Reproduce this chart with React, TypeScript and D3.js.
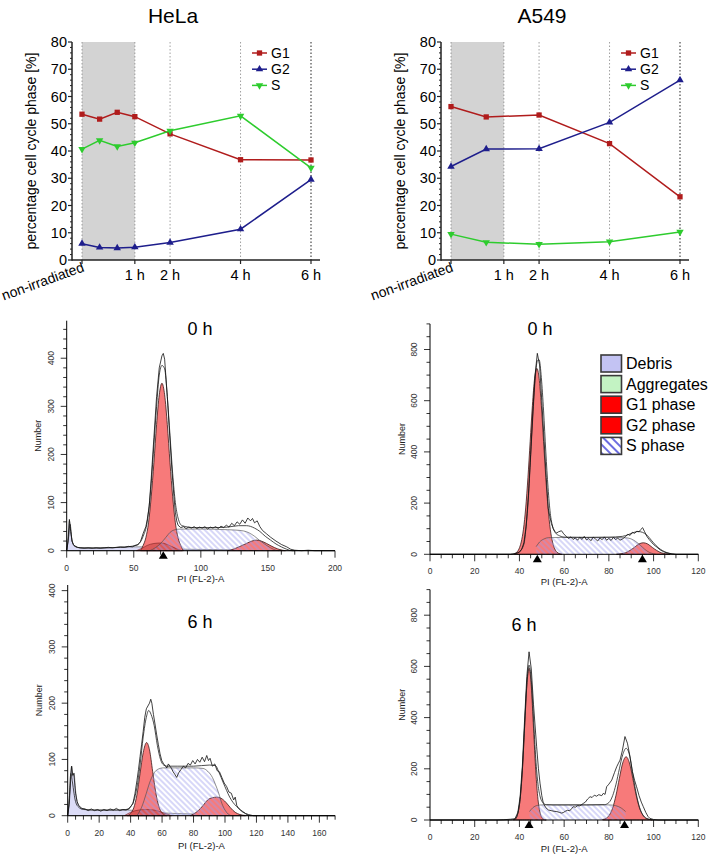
import React from 'react';
import * as d3 from 'd3';

type Pt = [number, number];

const FONT = '"Liberation Sans", Arial, Helvetica, sans-serif';

// cell cycle distribution in percent, time in hours (-0.5 = non-irradiated)
const helaTimes = [-0.5, 0, 0.5, 1, 2, 4, 6];
const helaG1 = [53.5, 51.7, 54.2, 52.6, 46.3, 36.8, 36.7];
const helaG2 = [6.0, 4.6, 4.4, 4.7, 6.4, 11.3, 29.5];
const helaS = [40.7, 43.9, 41.7, 43.0, 47.4, 52.9, 33.8];

const a549Times = [-0.5, 0.5, 2, 4, 6];
const a549G1 = [56.3, 52.5, 53.2, 42.7, 23.2];
const a549G2 = [34.3, 40.7, 40.8, 50.5, 66.0];
const a549S = [9.5, 6.5, 5.8, 6.7, 10.3];

const timeTicks = [1, 2, 4, 6];
const timeTickLabels = ['1 h', '2 h', '4 h', '6 h'];
const guideTimes = [-0.5, 1, 2, 4, 6];
const percentTicks = [0, 10, 20, 30, 40, 50, 60, 70, 80];

// HeLa 0 h histogram (PI channel, cell count)
const hela0Debris: Pt[] = [[0, 0], [1, 25], [2, 62], [3, 40], [4, 20], [6, 10], [10, 6], [20, 5], [30, 6], [40, 7], [50, 8], [56, 8], [62, 6], [70, 4], [90, 3], [120, 2], [150, 1], [170, 0]];
const hela0Hump: Pt[] = [[52, 0], [56, 5], [60, 11], [65, 15], [70, 16], [74, 14], [78, 9], [82, 4], [86, 0]];
const hela0G1: Pt[] = [[55, 0], [57, 11], [59, 27], [61, 58], [63, 112], [65, 183], [67, 262], [69, 324], [71, 348], [73, 324], [75, 262], [77, 183], [79, 112], [81, 58], [83, 27], [85, 11], [87, 0]];
const hela0G2: Pt[] = [[120, 0], [125, 4], [130, 10], [134, 15], [138, 20], [141.5, 22], [145, 20], [149, 15], [153, 9], [157, 4], [161, 1], [163, 0]];
const hela0S: Pt[] = [[62, 0], [66, 6], [70, 15], [74, 28], [77, 38], [80, 43], [85, 45], [95, 45], [105, 45], [115, 44], [125, 43], [132, 41], [136, 37], [140, 30], [144, 21], [148, 13], [152, 6], [156, 1], [158, 0]];
const hela0Fit: Pt[] = [[0, 0], [1.5, 30], [2.5, 55], [4, 20], [6, 9], [10, 6], [20, 6], [30, 6], [40, 7], [48, 9], [53, 13], [57, 30], [60, 60], [63, 140], [65, 220], [67, 300], [69, 365], [71, 385], [73, 378], [75, 320], [77, 240], [79, 160], [81, 100], [83, 68], [86, 52], [95, 48], [110, 48], [120, 49], [128, 52], [134, 52], [140, 47], [144, 40], [148, 30], [152, 22], [156, 14], [160, 8], [164, 3], [168, 0], [200, 0]];
const hela0Raw: Pt[] = [[0, 0], [1, 20], [2, 65], [3, 40], [4, 20], [5, 13], [6, 10], [8, 7], [10, 6], [13, 5], [16, 6], [19, 5], [22, 6], [25, 5], [28, 6], [31, 7], [34, 6], [37, 7], [40, 8], [43, 7], [46, 9], [49, 8], [51, 11], [53, 12], [55, 19], [57, 36], [59, 50], [60, 64], [61.5, 92], [63, 150], [65, 235], [67, 320], [69, 380], [71, 405], [72, 410], [73, 398], [75, 320], [77, 230], [78.5, 165], [80, 110], [81, 80], [82, 62], [83, 53], [85, 48], [87, 50], [89, 46], [91, 49], [93, 47], [95, 50], [97, 46], [99, 49], [101, 47], [103, 50], [105, 45], [107, 49], [109, 47], [111, 50], [113, 46], [115, 51], [117, 48], [119, 53], [121, 49], [123, 57], [125, 52], [127, 60], [129, 55], [131, 64], [133, 57], [135, 68], [137, 62], [138.5, 67], [140, 58], [142, 62], [144, 50], [146, 42], [149, 35], [152, 28], [156, 20], [160, 13], [164, 8], [167, 3], [170, 1], [175, 0], [180, 1], [185, 0], [200, 0]];
const hela0Marks = [72];

// HeLa 6 h histogram
const hela6Debris: Pt[] = [[0, 0], [1, 30], [2, 80], [2.5, 88], [3.2, 70], [4, 76], [5, 45], [6, 25], [8, 15], [10, 12], [15, 10], [20, 10], [30, 10], [38, 10], [44, 9], [50, 7], [60, 5], [80, 3], [100, 2], [120, 0]];
const hela6Hump: Pt[] = [[36, 0], [40, 6], [45, 10], [50, 11], [55, 10], [60, 6], [64, 2], [66, 0]];
const hela6G1: Pt[] = [[38, 0], [40, 4], [42, 14], [44, 37], [46, 75], [48, 112], [50.2, 130], [52, 117], [54, 79], [56, 41], [58, 16], [60, 5], [62, 1], [63, 0]];
const hela6G2: Pt[] = [[78, 0], [80, 3], [83, 9], [86, 18], [89, 28], [92, 32], [94.7, 33], [97.5, 31], [100.5, 24], [103.5, 14], [106.5, 6], [109.5, 2], [113, 0]];
const hela6S: Pt[] = [[44, 0], [47, 15], [50, 40], [52, 58], [54.5, 74], [57, 82], [61, 85], [70, 85], [80, 85], [86, 84], [89, 79], [92, 68], [94, 55], [96, 40], [98, 22], [100, 10], [102, 3], [104, 0]];
const hela6Fit: Pt[] = [[0, 0], [1, 30], [2, 75], [3, 60], [4, 40], [5, 25], [7, 15], [10, 11], [20, 10], [30, 10], [37, 11], [40, 16], [42, 26], [44, 50], [46, 90], [48, 140], [50, 175], [51.5, 187], [53, 180], [55, 160], [57, 125], [59, 100], [61, 90], [63, 88], [70, 88], [80, 88], [90, 90], [94, 89], [96, 78], [99, 58], [101, 45], [103, 33], [105, 24], [107.5, 16], [110, 10], [112, 6], [114, 2], [116, 0], [170, 0]];
const hela6Raw: Pt[] = [[0, 0], [1, 20], [2, 70], [2.5, 88], [3.2, 72], [3.9, 75], [5, 40], [6, 25], [7, 18], [9, 13], [11, 12], [13, 9], [15, 12], [17, 9], [19, 11], [21, 8], [23, 11], [25, 9], [27, 12], [29, 10], [31, 13], [33, 9], [35, 11], [37, 10], [39, 12], [40.5, 18], [41.5, 22], [42.8, 40], [44, 62], [45, 82], [46, 105], [47, 127], [48, 150], [49, 175], [50, 190], [51, 195], [52, 200], [52.8, 207], [53.5, 200], [54.5, 180], [55.5, 163], [56.5, 145], [57.6, 127], [58.7, 110], [59.8, 98], [61, 92], [62, 89], [63, 85], [64, 92], [65, 88], [66, 84], [67, 78], [68, 74], [69.3, 68], [70.5, 76], [72, 82], [73.5, 88], [75, 85], [76.5, 93], [78, 90], [79.5, 98], [81, 92], [82.5, 100], [84, 95], [85.5, 104], [87, 96], [88.4, 107], [89.5, 98], [90.5, 102], [92, 88], [93.5, 92], [95, 80], [96.5, 78], [98, 68], [99.5, 58], [101, 52], [102.5, 42], [104, 40], [105.5, 28], [106.5, 33], [107.5, 18], [109, 12], [111, 7], [113, 4], [115, 2], [118, 0], [170, 0]];
const hela6Marks: number[] = [];

// A549 0 h histogram
const a5490G1: Pt[] = [[37.8, 3], [38.8, 8], [39.8, 21], [40.8, 48], [41.8, 98], [42.8, 181], [43.8, 299], [44.8, 440], [45.8, 581], [46.8, 688], [47.8, 726], [48.8, 688], [49.8, 581], [50.8, 440], [51.8, 299], [52.8, 181], [53.8, 98], [54.8, 48], [55.8, 21], [56.8, 8], [57.8, 3], [59, 0]];
const a5490G2: Pt[] = [[83.4, 0.5], [85.4, 2], [87.4, 6], [89.4, 15], [91.4, 27], [93.4, 40], [95.4, 45], [97.4, 40], [99.4, 27], [101.4, 15], [103.4, 6], [105.4, 2], [107.4, 0]];
const a5490S: Pt[] = [[47.5, 30], [49, 48], [51, 60], [53, 65], [60, 66], [70, 66], [80, 66], [87, 65], [90, 60], [92, 50], [94, 36], [96, 20], [98, 8], [100, 2], [101, 0]];
const a5490Fit: Pt[] = [[0, 0], [36, 0], [38, 3], [40, 10], [42, 40], [43, 110], [44, 220], [45, 380], [46, 540], [47, 680], [48, 755], [48.8, 760], [49.8, 690], [50.8, 560], [51.8, 400], [52.8, 260], [53.8, 160], [54.8, 110], [56, 85], [58, 72], [60, 67], [70, 66], [80, 67], [86, 70], [89, 78], [91, 85], [93, 89], [95, 86], [97, 75], [99, 55], [101, 35], [103, 20], [105, 10], [107, 4], [110, 0], [120, 0]];
const a5490Raw: Pt[] = [[0, 0], [36, 0], [38, 2], [40, 8], [41, 20], [42, 45], [43, 110], [44, 230], [45, 390], [46, 560], [47, 700], [48, 785], [49, 740], [50, 600], [51, 450], [52, 300], [52.9, 180], [53.6, 147], [54.3, 120], [55.1, 101], [55.8, 90], [56.6, 83], [57.5, 88], [58.8, 92], [59.8, 80], [61, 69], [62, 62], [63, 68], [64, 58], [65, 64], [66, 55], [67, 66], [68, 58], [69, 70], [70, 56], [71, 62], [72, 53], [73, 67], [74, 60], [75, 52], [76, 64], [77, 57], [78, 68], [79, 55], [80, 62], [81, 54], [82, 66], [83, 58], [84, 63], [85, 55], [86.5, 62], [87.5, 70], [88.5, 78], [89.5, 74], [90.5, 86], [91.5, 82], [92.5, 90], [93.5, 88], [94.3, 97], [95.1, 104], [96, 88], [97, 70], [98, 58], [99, 48], [100, 38], [101.5, 28], [102.8, 18], [104.5, 10], [106, 5], [108, 2], [110, 0], [120, 0]];
const a5490Marks = [48, 95];

// A549 6 h histogram
const a5496G1: Pt[] = [[37.3, 1], [38.3, 7], [39.3, 26], [40.3, 80], [41.3, 192], [42.3, 359], [43.3, 523], [44.3, 593], [45.3, 523], [46.3, 359], [47.3, 192], [48.3, 80], [49.3, 26], [50.3, 7], [51.3, 1], [52, 0]];
const a5496G2: Pt[] = [[77.2, 2], [78.7, 6], [80.2, 19], [81.7, 47], [83.2, 97], [84.7, 163], [86.2, 223], [87.7, 247], [89.2, 223], [90.7, 163], [92.2, 97], [93.7, 47], [95.2, 19], [96.7, 6], [98.2, 2], [99.5, 0]];
const a5496S: Pt[] = [[44.5, 33], [46, 48], [48, 57], [50, 59], [60, 59], [70, 59], [80, 59], [83, 56], [85.5, 47], [87.5, 33]];
const a5496Fit: Pt[] = [[0, 0], [36, 0], [38, 2], [39.3, 27], [40.3, 82], [41.3, 195], [42.3, 365], [43.3, 530], [44.3, 605], [45.3, 545], [46.3, 395], [47.3, 240], [48.3, 140], [49.3, 90], [50.5, 68], [52, 60], [55, 59], [70, 59], [78, 60], [80, 68], [81.7, 95], [83.2, 140], [84.7, 200], [86.2, 255], [87.7, 280], [89.2, 255], [90.7, 180], [92.2, 105], [93.7, 50], [95.2, 20], [96.7, 7], [98.5, 2], [100, 0], [120, 0]];
const a5496Raw: Pt[] = [[0, 0], [30, 0], [33, 1], [36, 3], [38, 5], [39.3, 30], [40.3, 90], [41.3, 210], [42.3, 390], [43.3, 560], [44.3, 657], [45.3, 590], [46.3, 450], [47.7, 286], [48.5, 200], [49.2, 144], [50, 95], [50.7, 65], [51.8, 48], [53, 39], [54.5, 36], [55.5, 34], [56.7, 33], [57.8, 30], [58.8, 27], [59.6, 29], [60.5, 34], [61.5, 38], [62.5, 36], [63.3, 44], [64.1, 52], [65, 50], [66, 56], [67, 55], [68.6, 65], [69.5, 70], [70.5, 82], [71.6, 91], [72.5, 88], [73.5, 97], [74.5, 93], [75.5, 99], [76.8, 95], [77.5, 104], [78.3, 100], [79, 130], [80, 140], [81.3, 156], [82.5, 185], [83.5, 208], [84.3, 222], [85, 234], [86, 270], [87.2, 326], [88.3, 300], [89.4, 250], [90.5, 190], [91.5, 155], [92.4, 130], [93.5, 95], [94.5, 70], [95.4, 52], [96.5, 30], [97.5, 14], [98.4, 6], [100, 2], [102, 0], [120, 0]];
const a5496Marks = [44.3, 87];

const legendNames = ['Debris', 'Aggregates', 'G1 phase', 'G2 phase', 'S phase'];
const legendFills = ['#c3c3f3', '#c3f3c3', '#ff0000', '#ff0000', 'url(#hatchLegend)'];

const G1_COLOR = '#b01c1c';
const G2_COLOR = '#1e1e8c';
const S_COLOR = '#2ecc2e';

type LineProps = {
  dx: number;
  title: string;
  times: number[];
  g1: number[];
  g2: number[];
  s: number[];
};

const LineChart = ({ dx, title, times, g1, g2, s }: LineProps) => {
  const x = d3.scaleLinear().domain([-0.5, 6]).range([82 + dx, 311 + dx]);
  const y = d3.scaleLinear().domain([0, 80]).range([260, 42]);
  const axisX = 72 + dx;
  const series = [
    { name: 'G1', values: g1, color: G1_COLOR, type: d3.symbolSquare, rot: 0, size: 28 },
    { name: 'G2', values: g2, color: G2_COLOR, type: d3.symbolTriangle, rot: 0, size: 24 },
    { name: 'S', values: s, color: S_COLOR, type: d3.symbolTriangle, rot: 180, size: 24 },
  ];
  const line = d3.line<number>().x((_, i) => x(times[i])).y(d => y(d));
  const minor = d3.range(0, 81, 2).filter(v => v % 10 !== 0);

  return (
    <g>
      <text x={173 + dx} y={23} textAnchor="middle" fontSize={21}>{title}</text>
      <rect x={x(-0.5)} y={y(80)} width={x(1) - x(-0.5)} height={y(0) - y(80)} fill="#d3d3d3" />
      {guideTimes.map(t => (
        <line key={t} x1={x(t)} x2={x(t)} y1={y(80)} y2={y(0)}
          stroke={t === 6 ? '#222' : '#888'} strokeWidth={t === 6 ? 1 : 0.8} strokeDasharray="1.5,2" />
      ))}
      {/* axes */}
      <line x1={axisX} x2={axisX} y1={y(80)} y2={y(0) + 0.75} stroke="#222" strokeWidth={1.5} />
      <line x1={axisX} x2={320 + dx} y1={y(0)} y2={y(0)} stroke="#222" strokeWidth={1.5} />
      {percentTicks.map(v => (
        <g key={v}>
          <line x1={axisX - 4} x2={axisX} y1={y(v)} y2={y(v)} stroke="#222" strokeWidth={1.2} />
          <text x={axisX - 5} y={y(v) + 5} textAnchor="end" fontSize={14.5}>{v}</text>
        </g>
      ))}
      {minor.map(v => (
        <line key={v} x1={axisX - 2} x2={axisX} y1={y(v)} y2={y(v)} stroke="#222" strokeWidth={1} />
      ))}
      <text transform={`translate(${36 + dx},151) rotate(-90)`} textAnchor="middle" fontSize={14}>
        percentage cell cycle phase [%]
      </text>
      {[-0.5, ...timeTicks].map(t => (
        <line key={t} x1={x(t)} x2={x(t)} y1={y(0)} y2={y(0) + 4} stroke="#222" strokeWidth={1.2} />
      ))}
      {timeTicks.map((t, i) => (
        <text key={t} x={x(t)} y={280} textAnchor="middle" fontSize={14.5}>{timeTickLabels[i]}</text>
      ))}
      <text transform={`translate(${x(-0.5) + 3},271) rotate(-20)`} textAnchor="end" fontSize={14}>
        non-irradiated
      </text>
      {/* series */}
      {series.map(sr => (
        <g key={sr.name}>
          <path d={line(sr.values) ?? ''} fill="none" stroke={sr.color} strokeWidth={1.5} />
          {sr.values.map((v, i) => (
            <path key={i} d={d3.symbol().type(sr.type).size(sr.size)() ?? ''}
              transform={`translate(${x(times[i])},${y(v)}) rotate(${sr.rot})`} fill={sr.color} />
          ))}
        </g>
      ))}
      {/* legend */}
      {series.map((sr, i) => {
        const ly = 53 + i * 16.2;
        return (
          <g key={sr.name}>
            <line x1={252 + dx} x2={267 + dx} y1={ly} y2={ly} stroke={sr.color} strokeWidth={1.5} />
            <path d={d3.symbol().type(sr.type).size(sr.size)() ?? ''}
              transform={`translate(${259.5 + dx},${ly}) rotate(${sr.rot})`} fill={sr.color} />
            <text x={271 + dx} y={ly + 5} fontSize={14}>{sr.name}</text>
          </g>
        );
      })}
    </g>
  );
};

type HistProps = {
  xDomain: [number, number];
  xRange: [number, number];
  yDomain: [number, number];
  yRange: [number, number];
  xMajor: number[];
  xMinorStep: number;
  yMajor: number[];
  yMinorStep: number;
  debris?: Pt[];
  hump?: Pt[];
  g1: Pt[];
  g2: Pt[];
  sPhase: Pt[];
  fit: Pt[];
  raw: Pt[];
  marks: number[];
  title: string;
  titleX: number;
  titleY: number;
  labelDy: number;
};

const Histogram = (p: HistProps) => {
  const x = d3.scaleLinear().domain(p.xDomain).range(p.xRange);
  const y = d3.scaleLinear().domain(p.yDomain).range(p.yRange);
  const base = p.yRange[0];
  const ox = p.xRange[0];
  const area = d3.area<Pt>().x(d => x(d[0])).y0(base).y1(d => y(d[1])).curve(d3.curveMonotoneX);
  const smooth = d3.line<Pt>().x(d => x(d[0])).y(d => y(d[1])).curve(d3.curveMonotoneX);
  const jag = d3.line<Pt>().x(d => x(d[0])).y(d => y(d[1]));
  const xMinor = d3.range(p.xDomain[0], p.xDomain[1] + 0.01, p.xMinorStep).filter(v => !p.xMajor.includes(v));
  const yMinor = d3.range(0, p.yDomain[1] + 0.01, p.yMinorStep).filter(v => !p.yMajor.includes(v));
  const midY = (p.yRange[0] + p.yRange[1]) / 2;
  const midX = (p.xRange[0] + p.xRange[1]) / 2;
  const tickFont = 8.5;

  return (
    <g>
      {p.debris && <path d={area(p.debris) ?? ''} fill="#dcdcf7" stroke="#555" strokeWidth={0.6} />}
      <path d={area(p.g2) ?? ''} fill="#f77a7a" stroke="#3a1a1a" strokeWidth={0.8} />
      <path d={area(p.g1) ?? ''} fill="#f77a7a" stroke="#3a1a1a" strokeWidth={0.8} />
      {p.hump && <path d={area(p.hump) ?? ''} fill="#b83030" fillOpacity={0.45} stroke="#7a2020" strokeWidth={0.6} />}
      <path d={area(p.sPhase) ?? ''} fill="url(#hatch)" />
      <path d={smooth(p.sPhase) ?? ''} fill="none" stroke="#444" strokeWidth={0.6} />
      <path d={smooth(p.fit) ?? ''} fill="none" stroke="#222" strokeWidth={0.8} />
      <path d={jag(p.raw) ?? ''} fill="none" stroke="#111" strokeWidth={0.8} />
      {/* axes */}
      <line x1={ox} x2={ox} y1={p.yRange[1]} y2={base} stroke="#000" strokeWidth={1} />
      <line x1={ox} x2={p.xRange[1]} y1={base} y2={base} stroke="#000" strokeWidth={1} />
      {p.yMajor.map(v => (
        <g key={v}>
          <line x1={ox - 6} x2={ox} y1={y(v)} y2={y(v)} stroke="#000" strokeWidth={0.8} />
          <text transform={`translate(${ox - 13},${y(v)}) rotate(-90)`} textAnchor="middle" fontSize={tickFont} fill="#333">{v}</text>
        </g>
      ))}
      {yMinor.map(v => (
        <line key={v} x1={ox - 3.5} x2={ox} y1={y(v)} y2={y(v)} stroke="#000" strokeWidth={0.8} />
      ))}
      {p.xMajor.map(v => (
        <g key={v}>
          <line x1={x(v)} x2={x(v)} y1={base} y2={base + 7} stroke="#000" strokeWidth={0.8} />
          <text x={x(v)} y={base + 20} textAnchor="middle" fontSize={tickFont} fill="#333">{v}</text>
        </g>
      ))}
      {xMinor.map(v => (
        <line key={v} x1={x(v)} x2={x(v)} y1={base} y2={base + 4} stroke="#000" strokeWidth={0.8} />
      ))}
      {p.marks.map(m => (
        <path key={m} d={`M${x(m)},${base + 0.5}L${x(m) + 4.5},${base + 8}L${x(m) - 4.5},${base + 8}Z`} fill="#000" />
      ))}
      <text transform={`translate(${ox - 25.5},${midY}) rotate(-90)`} textAnchor="middle" fontSize={9} fill="#222">Number</text>
      <text x={midX} y={base + p.labelDy} textAnchor="middle" fontSize={9.5} fill="#222">PI (FL-2)-A</text>
      <text x={p.titleX} y={p.titleY} textAnchor="middle" fontSize={18}>{p.title}</text>
    </g>
  );
};

const Legend = () => (
  <g>
    {legendNames.map((n, i) => {
      const cy = 363.5 + i * 20.6;
      return (
        <g key={n}>
          <rect x={601} y={cy - 8.5} width={20.5} height={17} fill={legendFills[i]} stroke="#3a3a3a" strokeWidth={1.6} />
          <text x={626} y={cy + 5.5} fontSize={16}>{n}</text>
        </g>
      );
    })}
  </g>
);

export default function App() {
  return (
    <svg width={711} height={855} style={{ position: 'absolute', left: 0, top: 0, background: '#fff' }} fontFamily={FONT}>
      <defs>
        <pattern id="hatch" width={4} height={4} patternUnits="userSpaceOnUse" patternTransform="rotate(-45)">
          <line x1={2} y1={0} x2={2} y2={4} stroke="#9c9cee" strokeWidth={0.8} />
        </pattern>
        <pattern id="hatchLegend" width={6} height={6} patternUnits="userSpaceOnUse" patternTransform="rotate(-45)">
          <rect width={6} height={6} fill="#fff" />
          <line x1={3} y1={0} x2={3} y2={6} stroke="#4646d8" strokeWidth={1.6} />
        </pattern>
      </defs>
      <LineChart dx={0} title="HeLa" times={helaTimes} g1={helaG1} g2={helaG2} s={helaS} />
      <LineChart dx={369} title="A549" times={a549Times} g1={a549G1} g2={a549G2} s={a549S} />

      <Histogram xDomain={[0, 200]} xRange={[66.7, 335]} yDomain={[0, 478]} yRange={[550.7, 320.7]}
        xMajor={[0, 50, 100, 150, 200]} xMinorStep={10} yMajor={[0, 100, 200, 300, 400]} yMinorStep={20}
        debris={hela0Debris} hump={hela0Hump} g1={hela0G1} g2={hela0G2} sPhase={hela0S} fit={hela0Fit} raw={hela0Raw}
        marks={hela0Marks} title="0 h" titleX={200} titleY={335} labelDy={31} />
      <Histogram xDomain={[0, 120]} xRange={[430, 698.3]} yDomain={[0, 900]} yRange={[554.3, 323.9]}
        xMajor={[0, 20, 40, 60, 80, 100, 120]} xMinorStep={5} yMajor={[0, 200, 400, 600, 800]} yMinorStep={50}
        g1={a5490G1} g2={a5490G2} sPhase={a5490S} fit={a5490Fit} raw={a5490Raw}
        marks={a5490Marks} title="0 h" titleX={540} titleY={335} labelDy={31} />
      <Histogram xDomain={[0, 170]} xRange={[67.7, 335.1]} yDomain={[0, 410]} yRange={[815.7, 585]}
        xMajor={[0, 20, 40, 60, 80, 100, 120, 140, 160]} xMinorStep={5} yMajor={[0, 100, 200, 300, 400]} yMinorStep={20}
        debris={hela6Debris} hump={hela6Hump} g1={hela6G1} g2={hela6G2} sPhase={hela6S} fit={hela6Fit} raw={hela6Raw}
        marks={hela6Marks} title="6 h" titleX={200} titleY={628} labelDy={33} />
      <Histogram xDomain={[0, 120]} xRange={[430, 698.3]} yDomain={[0, 900]} yRange={[820, 589.6]}
        xMajor={[0, 20, 40, 60, 80, 100, 120]} xMinorStep={5} yMajor={[0, 200, 400, 600, 800]} yMinorStep={50}
        g1={a5496G1} g2={a5496G2} sPhase={a5496S} fit={a5496Fit} raw={a5496Raw}
        marks={a5496Marks} title="6 h" titleX={524} titleY={631} labelDy={32} />
      <Legend />
    </svg>
  );
}
